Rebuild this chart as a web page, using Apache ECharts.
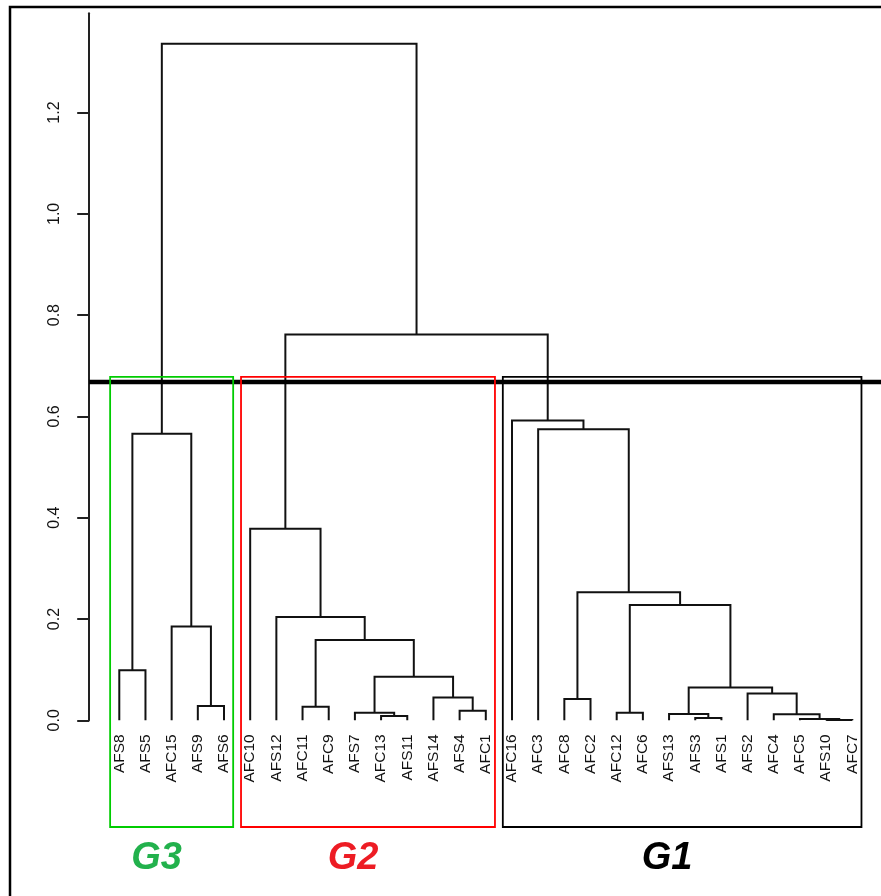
<!DOCTYPE html>
<html>
<head>
<meta charset="utf-8">
<script src="https://cdn.jsdelivr.net/npm/echarts@6/dist/echarts.min.js"></script>
<style>
html,body{margin:0;padding:0;background:#fff;}
#chart{width:881px;height:896px;}
</style>
</head>
<body>
<div id="chart"></div>
<script>
// Leaf order (left to right)
const leafLabels = ['AFS8','AFS5','AFC15','AFS9','AFS6','AFC10','AFS12','AFC11','AFC9','AFS7','AFC13','AFS11','AFS14','AFS4','AFC1','AFC16','AFC3','AFC8','AFC2','AFC12','AFC6','AFS13','AFS3','AFS1','AFS2','AFC4','AFC5','AFS10','AFC7'];

// Merge steps: pairs joined (leaf name or "m<index>" of a previous merge)
const mergePairs = [
  ['AFS8','AFS5'],   // m0
  ['AFS9','AFS6'],   // m1
  ['AFC15','m1'],    // m2
  ['m0','m2'],       // m3  (G3)
  ['AFC13','AFS11'], // m4
  ['AFS7','m4'],     // m5
  ['AFS4','AFC1'],   // m6
  ['AFS14','m6'],    // m7
  ['m5','m7'],       // m8
  ['AFC11','AFC9'],  // m9
  ['m9','m8'],       // m10
  ['AFS12','m10'],   // m11
  ['AFC10','m11'],   // m12 (G2)
  ['AFC8','AFC2'],   // m13
  ['AFC12','AFC6'],  // m14
  ['AFS3','AFS1'],   // m15
  ['AFS13','m15'],   // m16
  ['AFS10','AFC7'],  // m17
  ['AFC5','m17'],    // m18
  ['AFC4','m18'],    // m19
  ['AFS2','m19'],    // m20
  ['m16','m20'],     // m21
  ['m14','m21'],     // m22
  ['m13','m22'],     // m23
  ['AFC3','m23'],    // m24
  ['AFC16','m24'],   // m25 (G1)
  ['m12','m25'],     // m26
  ['m3','m26']       // m27 root
];
const mergeHeights = [
  0.099, 0.028, 0.185, 0.566,
  0.0085, 0.015, 0.019, 0.045, 0.086, 0.027, 0.1585, 0.204, 0.378,
  0.042, 0.015, 0.0045, 0.0124, 0.0008, 0.0025, 0.0118, 0.053, 0.065, 0.2276, 0.2527, 0.5745, 0.592,
  0.762, 1.336
];

// Y axis ticks
const yTicks = [0, 0.2, 0.4, 0.6, 0.8, 1.0, 1.2];
const yMax = 1.396;

// Cut height
const cutHeight = 0.668;

// Groups (boxes)
const groupNames = ['G3', 'G2', 'G1'];
const groupFirstLeaf = ['AFS8', 'AFC10', 'AFC16'];
const groupLastLeaf = ['AFS6', 'AFC1', 'AFC7'];
const groupBoxColors = ['#00cc00', '#ff0000', '#000000'];
const groupTextColors = ['#22b14c', '#ed1c24', '#000000'];
const boxTop = 0.678;
const boxBottom = -0.2107;

// ---- build dendrogram segments ----
const nodePos = {};
const nodeH = {};
leafLabels.forEach((l, i) => { nodePos[l] = i; nodeH[l] = 0; });
const segments = [];
mergePairs.forEach((p, i) => {
  const a = p[0], b = p[1];
  const h = mergeHeights[i];
  const xa = nodePos[a], xb = nodePos[b];
  segments.push({ coords: [[xa, nodeH[a]], [xa, h], [xb, h], [xb, nodeH[b]]] });
  const key = 'm' + i;
  nodePos[key] = (xa + xb) / 2;
  nodeH[key] = h;
});

const chart = echarts.init(document.getElementById('chart'), null, { renderer: 'canvas' });
const axisOffset = 17;
const boxPad = 0.35;

const option = {
  animation: false,
  backgroundColor: '#fff',
  grid: { left: 106.2, right: 15.6, top: 13.3, bottom: 175.7, containLabel: false },
  xAxis: [
    {
      type: 'category', data: leafLabels, boundaryGap: true,
      axisLine: { show: false, onZero: false }, axisTick: { show: false }, splitLine: { show: false },
      axisLabel: { rotate: 90, interval: 0, margin: 14, fontSize: 15.5, fontFamily: 'Liberation Sans, Arial', color: '#111' }
    },
    { type: 'value', min: -0.5, max: leafLabels.length - 0.5, show: false, axisLine: { onZero: false } }
  ],
  yAxis: {
    type: 'value', min: 0, max: yMax, interval: 0.2, offset: axisOffset,
    axisLine: { show: true, onZero: false, lineStyle: { color: '#222', width: 2 } },
    axisTick: { show: true, length: 12, inside: false, lineStyle: { color: '#222', width: 2 }, customValues: yTicks },
    axisLabel: {
      rotate: 90, margin: 27, fontSize: 16, fontFamily: 'Liberation Sans, Arial', color: '#111',
      customValues: yTicks,
      formatter: v => (Math.abs(v * 5 - Math.round(v * 5)) < 1e-6 ? v.toFixed(1) : '')
    },
    splitLine: { show: false }
  },
  graphic: [
    { type: 'rect', shape: { x: 10, y: 7, width: 900, height: 920 }, style: { fill: 'none', stroke: '#000', lineWidth: 2.5 }, silent: true }
  ],
  series: [
    {
      type: 'lines', coordinateSystem: 'cartesian2d', xAxisIndex: 1, yAxisIndex: 0,
      polyline: true, silent: true,
      lineStyle: { color: '#111', width: 2, opacity: 1 },
      data: segments
    },
    {
      type: 'custom', xAxisIndex: 1, yAxisIndex: 0, clip: false, silent: true,
      data: [[0, cutHeight]],
      renderItem: function (params, api) {
        const y = api.coord([0, cutHeight])[1];
        const cs = params.coordSys;
        return {
          type: 'line',
          shape: { x1: cs.x - axisOffset, y1: y, x2: api.getWidth(), y2: y },
          style: { stroke: '#000', lineWidth: 4.5 }
        };
      }
    },
    {
      type: 'custom', xAxisIndex: 1, yAxisIndex: 0, clip: false, silent: true, z: 3,
      data: groupNames.map((g, i) => [i, boxTop]),
      renderItem: function (params, api) {
        const i = params.dataIndex;
        const f = leafLabels.indexOf(groupFirstLeaf[i]);
        const l = leafLabels.indexOf(groupLastLeaf[i]);
        const p1 = api.coord([f - boxPad, boxTop]);
        const p2 = api.coord([l + boxPad, boxBottom]);
        const cx = (p1[0] + p2[0]) / 2;
        return {
          type: 'group',
          children: [
            {
              type: 'rect',
              shape: { x: p1[0], y: p1[1], width: p2[0] - p1[0], height: p2[1] - p1[1] },
              style: { fill: 'none', stroke: groupBoxColors[i], lineWidth: 1.8 }
            },
            {
              type: 'text',
              x: cx - 15, y: p2[1] + 32,
              style: {
                text: groupNames[i], fill: groupTextColors[i],
                font: 'italic bold 38px "Liberation Sans", Arial',
                align: 'center', verticalAlign: 'middle'
              }
            }
          ]
        };
      }
    }
  ]
};
chart.setOption(option);
</script>
</body>
</html>
